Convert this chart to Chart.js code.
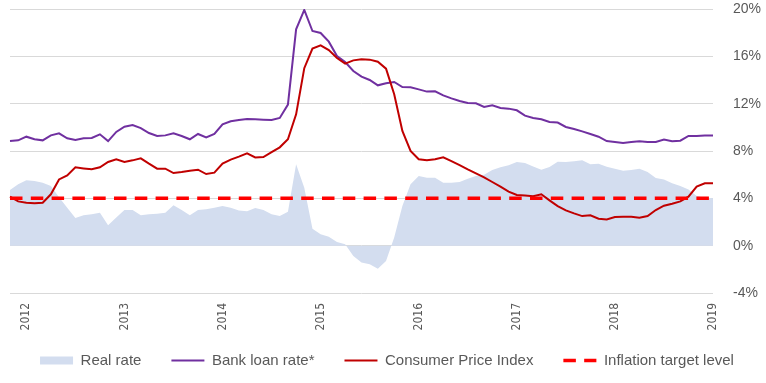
<!DOCTYPE html>
<html>
<head>
<meta charset="utf-8">
<script src="https://cdn.jsdelivr.net/npm/chart.js@4"></script>
<style>
  html, body { margin: 0; padding: 0; background: #ffffff; }
</style>
</head>
<body>
<canvas id="chart" width="766" height="383"></canvas>
<script>
// monthly, Nov 2011 .. Jan 2019
const months = [];
for (let y = 2011; y <= 2019; y++) {
  for (let m = 1; m <= 12; m++) {
    if ((y === 2011 && m < 11) || (y === 2019 && m > 1)) continue;
    months.push(y + "-" + String(m).padStart(2, "0"));
  }
}

const realRate = [
  4.70, 5.18, 5.52, 5.46, 5.32, 5.04, 4.10, 3.20, 2.33, 2.56,
  2.65, 2.79, 1.72, 2.37, 3.01, 3.01, 2.56, 2.65, 2.70, 2.79,
  3.41, 3.01, 2.56, 3.01, 3.07, 3.21, 3.35, 3.21, 2.98, 2.90,
  3.18, 3.01, 2.65, 2.50, 2.87, 6.87, 4.90, 1.44, 0.96, 0.76,
  0.30, 0.11, -0.88, -1.42, -1.58, -1.95, -1.30, 0.68, 3.35, 5.18,
  5.88, 5.75, 5.75, 5.32, 5.32, 5.38, 5.66, 5.88, 6.00, 6.39,
  6.62, 6.79, 7.07, 6.98, 6.70, 6.42, 6.64, 7.10, 7.07, 7.13,
  7.21, 6.87, 6.93, 6.66, 6.50, 6.34, 6.39, 6.50, 6.22, 5.72,
  5.60, 5.27, 5.05, 4.75, 4.20, 4.05, 4.00
];

const bankLoanRate = [
  8.84, 8.90, 9.21, 8.99, 8.90, 9.32, 9.49, 9.07, 8.93, 9.07,
  9.10, 9.41, 8.84, 9.61, 10.05, 10.19, 9.94, 9.52, 9.27, 9.32,
  9.49, 9.27, 8.99, 9.44, 9.15, 9.44, 10.25, 10.51, 10.62, 10.70,
  10.68, 10.65, 10.62, 10.79, 11.92, 18.28, 19.92, 18.14, 17.97, 17.24,
  16.03, 15.52, 14.76, 14.28, 14.00, 13.55, 13.72, 13.83, 13.41, 13.38,
  13.21, 13.02, 13.04, 12.70, 12.45, 12.22, 12.05, 12.03, 11.72, 11.86,
  11.64, 11.58, 11.44, 10.99, 10.79, 10.68, 10.45, 10.40, 10.03, 9.86,
  9.66, 9.44, 9.21, 8.84, 8.76, 8.67, 8.76, 8.82, 8.76, 8.76,
  8.96, 8.82, 8.87, 9.27, 9.27, 9.32, 9.32
];

const cpi = [
  4.14, 3.74, 3.63, 3.58, 3.63, 4.34, 5.60, 5.94, 6.62, 6.53,
  6.45, 6.62, 7.07, 7.30, 7.07, 7.21, 7.38, 6.93, 6.51, 6.51,
  6.14, 6.22, 6.34, 6.42, 6.05, 6.17, 6.93, 7.27, 7.52, 7.80,
  7.46, 7.49, 7.91, 8.31, 8.99, 11.10, 15.00, 16.65, 16.93, 16.53,
  15.86, 15.38, 15.66, 15.75, 15.72, 15.55, 14.96, 12.79, 9.69, 8.00,
  7.30, 7.21, 7.30, 7.46, 7.15, 6.81, 6.45, 6.11, 5.78, 5.38,
  4.99, 4.56, 4.28, 4.23, 4.17, 4.34, 3.83, 3.35, 2.98, 2.73,
  2.50, 2.56, 2.28, 2.22, 2.42, 2.45, 2.45, 2.37, 2.50, 3.01,
  3.38, 3.55, 3.74, 4.14, 4.99, 5.27, 5.27
];

const inflationTarget = months.map(() => 4);

const yTicks = [-4, 0, 4, 8, 12, 16, 20];

const gray = "#595959";

const data = {
  labels: months,
  datasets: [
    {
      label: "Real rate",
      data: realRate,
      fill: "origin",
      backgroundColor: "#D3DDEF",
      borderColor: "#D3DDEF",
      borderWidth: 0,
      pointRadius: 0,
      pointStyle: "rect",
      order: 4,
    },
    {
      label: "Bank loan rate*",
      data: bankLoanRate,
      borderColor: "#7030A0",
      backgroundColor: "#7030A0",
      borderWidth: 2,
      pointRadius: 0,
      pointStyle: "line",
      order: 3,
    },
    {
      label: "Consumer Price Index",
      data: cpi,
      borderColor: "#C00000",
      backgroundColor: "#C00000",
      borderWidth: 2,
      pointRadius: 0,
      pointStyle: "line",
      order: 2,
    },
    {
      label: "Inflation target level",
      data: inflationTarget,
      borderColor: "#FF0000",
      backgroundColor: "#FF0000",
      borderWidth: 3.5,
      borderDash: [12.5, 8.3],
      pointRadius: 0,
      pointStyle: "line",
      order: 1,
    },
  ],
};

// legend items: keep the dash and width of each line
function legendLabels(chart) {
  const items = Chart.defaults.plugins.legend.labels.generateLabels(chart);
  items.forEach((item) => {
    const ds = chart.data.datasets[item.datasetIndex];
    item.lineDash = ds.borderDash || [];
    item.lineWidth = ds.borderWidth;
    item.strokeStyle = ds.borderColor;
  });
  return items;
}

// year labels hang a bit below the x axis box, don't clip them
const xLabelRoom = {
  id: "xLabelRoom",
  afterLayout(chart) {
    chart.scales.x.bottom += 16;
  },
};

new Chart(document.getElementById("chart"), {
  type: "line",
  data,
  plugins: [xLabelRoom],
  options: {
    responsive: false,
    animation: false,
    layout: { padding: { top: 9, right: 0, bottom: 5, left: 8 } },
    elements: { line: { tension: 0 } },
    plugins: {
      tooltip: { enabled: false },
      legend: {
        position: "bottom",
        labels: {
          usePointStyle: true,
          pointStyleWidth: 33,
          boxHeight: 8,
          padding: 30,
          color: gray,
          font: { family: "'Liberation Sans', Arial, sans-serif", size: 15 },
          generateLabels: legendLabels,
          sort: (a, b) => a.datasetIndex - b.datasetIndex,
        },
      },
    },
    scales: {
      x: {
        offset: false,
        grid: { display: false, drawTicks: false },
        border: { display: false },
        ticks: {
          autoSkip: false,
          minRotation: 90,
          maxRotation: 90,
          padding: 10,
          color: gray,
          font: { family: "'DejaVu Sans Condensed', sans-serif", size: 12 },
          callback: function (value) {
            const lab = this.getLabelForValue(value);
            return lab.endsWith("-01") ? lab.slice(0, 4) : "";
          },
        },
        afterFit: (scale) => { scale.height = 30; },
      },
      y: {
        position: "right",
        min: -4,
        max: 20,
        afterBuildTicks: (scale) => { scale.ticks = yTicks.map((v) => ({ value: v })); },
        grid: { color: "#D9D9D9", drawTicks: false },
        border: { display: false },
        ticks: {
          padding: 20,
          color: gray,
          font: { family: "'Liberation Sans', Arial, sans-serif", size: 14 },
          callback: (v) => v + "%",
        },
        afterFit: (scale) => {
          scale.width = 53;
          scale.paddingTop = 0;
          scale.paddingBottom = 0;
        },
      },
    },
  },
});
</script>
</body>
</html>
